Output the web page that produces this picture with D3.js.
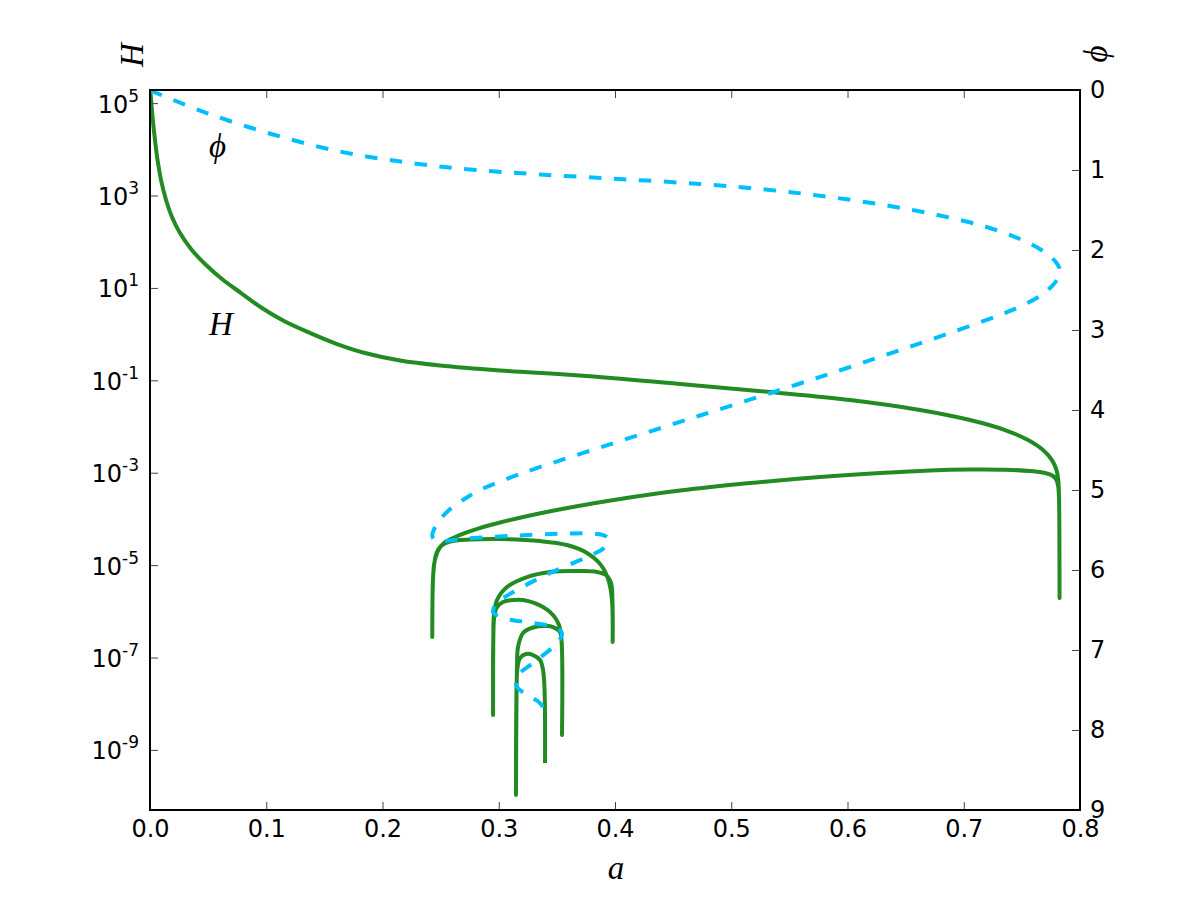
<!DOCTYPE html>
<html>
<head>
<meta charset="utf-8">
<script src="https://cdn.jsdelivr.net/npm/d3@7"></script>
<style>
body{margin:0;background:#fff;}
text{font-family:"DejaVu Sans",sans-serif;}
.math{font-family:"Liberation Serif","DejaVu Serif",serif;font-style:italic;}
</style>
</head>
<body>
<div id="canvas" class="canvas"></div>
<script>
// H(a) curve, green solid, left log axis
var aH = [0.00026,0.0013,0.0026,0.0043,0.0065,0.0095,0.0138,0.0189,0.0258,0.0353,0.0473,0.0619,0.0783,0.0963,0.1161,0.1376,0.1609,0.1867,0.2151,0.2495,0.3011,0.3699,0.4559,0.5333,0.6022,0.6624,0.7054,0.7355,0.7553,0.7682,0.7759,0.7798,0.7813,0.7819,0.7822,0.7824,
  0.7822,0.7819,0.7813,0.7798,0.7768,0.7699,0.7570,0.7355,0.7054,0.6710,0.6280,0.5763,0.5161,0.4559,0.4043,0.3613,0.3269,0.3011,0.2822,0.2684,0.2598,0.2529,0.2486,0.2460,0.2443,0.2434,0.2430,0.2428,
  0.2430,0.2434,0.2445,0.2465,0.2503,0.2581,0.2753,0.3011,0.3355,0.3587,0.3759,0.3880,0.3944,0.3974,0.3980,
  0.3978,0.3966,0.3923,0.3845,0.3725,0.3441,0.3243,0.3071,0.2985,0.2959,0.2953,0.2951,
  0.2953,0.2963,0.2985,0.3037,0.3123,0.3209,0.3381,0.3467,0.3518,0.3540,0.3544,
  0.3542,0.3527,0.3467,0.3415,0.3295,0.3209,0.3166,0.3157,0.3148,
  0.3153,0.3161,0.3183,0.3234,0.3295,0.3355,0.3381,0.3394,0.3398];
var hValues = [1.92e5,9.10e4,3.90e4,1.59e4,5.86e3,2.16e3,800,343,154,69.5,32.9,15.6,7.76,3.67,1.87,1.06,0.611,0.380,0.268,0.209,0.163,0.127,0.0832,0.0558,0.0375,0.0228,0.0138,8.39e-3,5.10e-3,3.10e-3,1.88e-3,1.14e-3,6.95e-4,3.29e-4,9.46e-5,1.94e-6,
  9.46e-5,2.98e-4,4.90e-4,6.95e-4,8.49e-4,9.86e-4,1.09e-3,1.16e-3,1.17e-3,1.12e-3,9.86e-4,8.07e-4,5.98e-4,4.12e-4,2.70e-4,1.77e-4,1.19e-4,8.36e-5,6.19e-5,4.71e-5,3.77e-5,3.01e-5,2.23e-5,1.57e-5,1.00e-5,4.75e-6,1.76e-6,2.78e-7,
  1.76e-6,4.75e-6,1.06e-5,1.83e-5,2.59e-5,3.24e-5,3.58e-5,3.67e-5,3.32e-5,2.72e-5,1.83e-5,1.00e-5,4.75e-6,1.76e-6,2.16e-7,
  1.76e-6,4.10e-6,6.11e-6,7.10e-6,7.45e-6,7.10e-6,5.52e-6,3.36e-6,1.76e-6,8.32e-7,2.39e-7,5.69e-9,
  2.39e-7,8.32e-7,1.24e-6,1.59e-6,1.76e-6,1.76e-6,1.24e-6,8.32e-7,5.05e-7,2.39e-7,2.10e-9,
  1.87e-7,3.56e-7,4.57e-7,4.81e-7,4.46e-7,3.39e-7,1.69e-7,6.22e-8,1.06e-10,
  1.98e-8,5.93e-8,9.75e-8,1.19e-7,1.13e-7,8.83e-8,5.36e-8,1.98e-8,5.21e-10];

// phi(a) curve, blue dashed, right axis
var aPhi = [0.0003,0.0488,0.1058,0.1634,0.2211,0.2753,0.3355,0.4043,0.4731,0.5333,0.5849,0.6366,0.6796,0.7183,0.7484,0.7682,0.7785,0.7828,0.7811,0.7759,0.7656,0.7484,0.7286,0.6856,0.6426,0.5996,0.5566,0.4731,0.3871,0.3183,0.2839,0.2692,0.2563,0.2486,0.2443,0.2428,0.2443,0.2495,
  0.2727,0.3157,0.3587,0.3854,0.3923,0.3944,0.3905,0.3759,0.3441,0.3157,0.2985,0.2951,0.3037,0.3295,0.3501,0.3544,0.3501,0.3295,0.3183,0.3148,0.3157,0.3243,0.3355,0.3398,0.3398];
var phiValues = [0.006,0.288,0.556,0.769,0.906,0.994,1.056,1.113,1.175,1.250,1.338,1.450,1.569,1.706,1.863,2.013,2.138,2.250,2.350,2.450,2.575,2.706,2.825,3.050,3.263,3.475,3.681,4.069,4.469,4.800,5.000,5.125,5.263,5.388,5.494,5.563,5.619,5.638,
  5.606,5.569,5.544,5.550,5.581,5.638,5.725,5.838,6.038,6.250,6.413,6.525,6.600,6.663,6.725,6.800,6.913,7.163,7.288,7.400,7.463,7.563,7.663,7.788,7.838];

var aTicks = [0,0.1,0.2,0.3,0.4,0.5,0.6,0.7,0.8];
var hTickExp = [5,3,1,-1,-3,-5,-7,-9];
var phiTicks = [0,1,2,3,4,5,6,7,8,9];
var hDomain = [5.01e-11, 1.923e5];

var m = {t:90,r:120,b:90,l:150};
var outerWidth = 1200, outerHeight = 900;
var w = outerWidth - m.l - m.r,
    h = outerHeight - m.t - m.b;

var svg = d3.select('.canvas')
    .append('svg')
    .attr('width',outerWidth)
    .attr('height',outerHeight);

var plot = svg.append('g')
    .attr('transform','translate(' + m.l + ',' + m.t + ')');

var x = d3.scaleLinear().domain([0,0.8]).range([0,w]);
var yH = d3.scaleLog().domain(hDomain).range([h,0]);
var yPhi = d3.scaleLinear().domain([0,9]).range([0,h]);

plot.append('clipPath').attr('id','clip')
    .append('rect').attr('width',w).attr('height',h);

var lineH = d3.line()
    .x(function(d){ return x(d[0]); })
    .y(function(d){ return yH(d[1]); })
    .curve(d3.curveCatmullRom.alpha(0.5));
var linePhi = d3.line()
    .x(function(d){ return x(d[0]); })
    .y(function(d){ return yPhi(d[1]); })
    .curve(d3.curveCatmullRom.alpha(0.5));

plot.append('path')
    .datum(d3.zip(aH,hValues))
    .attr('clip-path','url(#clip)')
    .attr('d',lineH)
    .attr('fill','none')
    .attr('stroke','#228b22')
    .attr('stroke-width',4)
    .attr('stroke-linejoin','round');

plot.append('path')
    .datum(d3.zip(aPhi,phiValues))
    .attr('clip-path','url(#clip)')
    .attr('d',linePhi)
    .attr('fill','none')
    .attr('stroke','#00bfff')
    .attr('stroke-width',4)
    .attr('stroke-dasharray','12.5,12.5');

// axes, ticks pointing inward
function styleAxis(g){
    g.select('.domain').remove();
    g.selectAll('.tick line').attr('stroke','#444').attr('stroke-width',1);
    g.selectAll('.tick text').attr('fill','#000')
        .style('font-family','"DejaVu Sans",sans-serif').style('font-size','24px');
}

plot.append('g')
    .attr('transform','translate(0,' + h + ')')
    .call(d3.axisBottom(x).tickValues(aTicks).tickFormat(d3.format('.1f'))
        .tickSizeInner(-8).tickSizeOuter(0).tickPadding(10))
    .call(styleAxis);

plot.append('g')
    .call(d3.axisTop(x).tickValues(aTicks).tickFormat('')
        .tickSizeInner(-8).tickSizeOuter(0))
    .call(styleAxis);

plot.append('g')
    .attr('transform','translate(' + w + ',0)')
    .call(d3.axisRight(yPhi).tickValues(phiTicks).tickFormat(d3.format('d'))
        .tickSizeInner(-8).tickSizeOuter(0).tickPadding(10))
    .call(styleAxis);

var leftAxis = plot.append('g')
    .call(d3.axisLeft(yH).tickValues(hTickExp.map(function(e){ return Math.pow(10,e); }))
        .tickFormat('').tickSizeInner(-8).tickSizeOuter(0))
    .call(styleAxis);

leftAxis.selectAll('.tick').each(function(d,i){
    var t = d3.select(this).append('text')
        .attr('x',-11).attr('y',9)
        .attr('text-anchor','end')
        .attr('fill','#000')
        .style('font-size','24px');
    t.append('tspan').text('10');
    t.append('tspan').attr('dy',-11).style('font-size','17px')
        .text(String(hTickExp[i]));
});

plot.append('rect')
    .attr('width',w).attr('height',h)
    .attr('fill','none').attr('stroke','#000').attr('stroke-width',2);

// labels
svg.append('text').attr('class','math')
    .attr('transform','translate(131,55) rotate(-90)')
    .attr('text-anchor','middle').attr('dy','0.35em')
    .style('font-size','33px').text('H');

svg.append('text').attr('class','math')
    .attr('transform','translate(1095,54) rotate(-90)')
    .attr('text-anchor','middle').attr('dy','0.35em')
    .style('font-size','33px').text('ϕ');

svg.append('text').attr('class','math')
    .attr('x',616).attr('y',869)
    .attr('text-anchor','middle').attr('dy','0.3em')
    .style('font-size','33px').text('a');

plot.append('text').attr('class','math')
    .attr('x',x(0.058)).attr('y',55)
    .attr('text-anchor','middle').attr('dy','0.35em')
    .style('font-size','33px').text('ϕ');

plot.append('text').attr('class','math')
    .attr('x',x(0.061)).attr('y',233)
    .attr('text-anchor','middle').attr('dy','0.35em')
    .style('font-size','33px').text('H');
</script>
</body>
</html>
